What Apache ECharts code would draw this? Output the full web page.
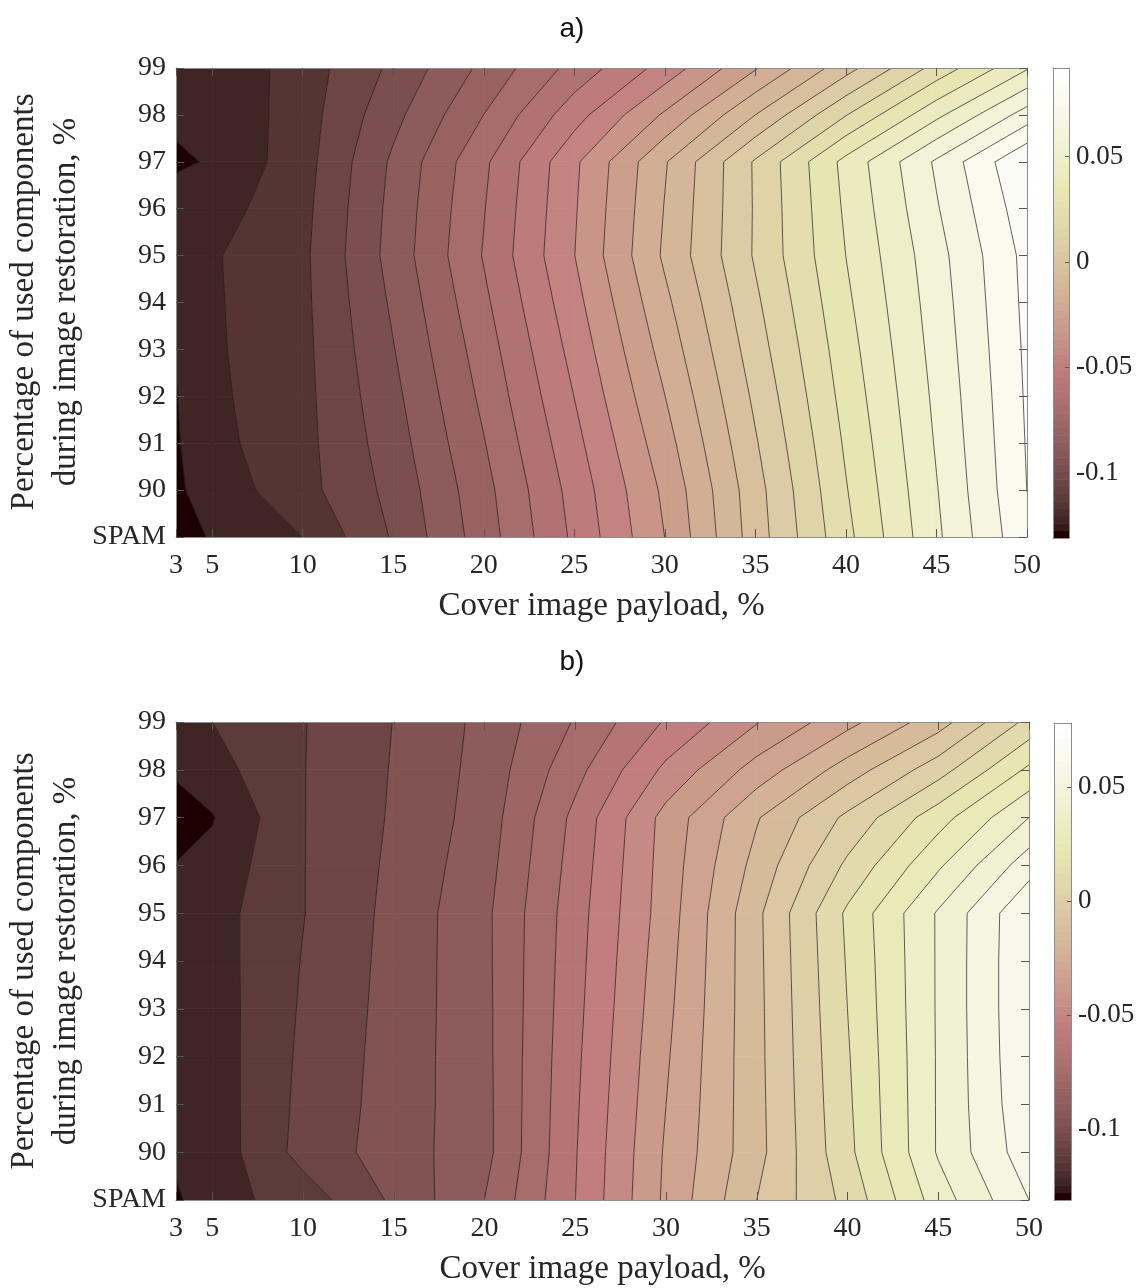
<!DOCTYPE html>
<html>
<head>
<meta charset="UTF-8">
<title>Contour maps a) and b)</title>
<script src="https://cdn.jsdelivr.net/npm/echarts@6/dist/echarts.min.js"></script>
<style>
  html, body { margin: 0; padding: 0; background: #fff; }
  #chart { width: 1144px; height: 1288px; }
</style>
</head>
<body>
<div id="chart"></div>
<script>
// grid of the measurements
var payload = [3, 5, 10, 15, 20, 25, 30, 35, 40, 45, 50];
var restoration = [89, 90, 91, 92, 93, 94, 95, 96, 97, 98, 99]; // 89 is the SPAM row
var payloadTicks = [3, 5, 10, 15, 20, 25, 30, 35, 40, 45, 50];
var colorbarTicks = [-0.1, -0.05, 0, 0.05];

// colour limits and number of contour levels of each map
var rangeA = [-0.131, 0.092];
var rangeB = [-0.131, 0.078];
var levelCountA = 25;
var levelCountB = 24;

// values, one row per restoration percentage (SPAM first), columns follow payload
var valuesA = [
  [-0.1310, -0.1207, -0.1138, -0.0958, -0.0752, -0.0521, -0.0280, 0.0020, 0.0295, 0.0560, 0.0818], // SPAM
  [-0.1237, -0.1190, -0.1083, -0.0941, -0.0738, -0.0506, -0.0263, 0.0029, 0.0314, 0.0572, 0.0835], // 90
  [-0.1233, -0.1164, -0.1080, -0.0922, -0.0714, -0.0479, -0.0230, 0.0054, 0.0332, 0.0585, 0.0840], // 91
  [-0.1228, -0.1156, -0.1078, -0.0904, -0.0690, -0.0451, -0.0196, 0.0080, 0.0351, 0.0596, 0.0845], // 92
  [-0.1220, -0.1151, -0.1076, -0.0885, -0.0667, -0.0423, -0.0162, 0.0107, 0.0369, 0.0608, 0.0850], // 93
  [-0.1198, -0.1149, -0.1073, -0.0867, -0.0642, -0.0395, -0.0129, 0.0132, 0.0388, 0.0619, 0.0856], // 94
  [-0.1181, -0.1147, -0.1071, -0.0848, -0.0618, -0.0368, -0.0095, 0.0158, 0.0406, 0.0631, 0.0861], // 95
  [-0.1178, -0.1177, -0.1078, -0.0855, -0.0628, -0.0375, -0.0105, 0.0157, 0.0419, 0.0655, 0.0887], // 96
  [-0.1239, -0.1216, -0.1088, -0.0866, -0.0641, -0.0383, -0.0117, 0.0159, 0.0432, 0.0676, 0.0921], // 97
  [-0.1206, -0.1214, -0.1093, -0.0907, -0.0709, -0.0488, -0.0268, -0.0023, 0.0230, 0.0470, 0.0702], // 98
  [-0.1216, -0.1211, -0.1097, -0.0949, -0.0774, -0.0594, -0.0419, -0.0203, 0.0029, 0.0264, 0.0483]  // 99
];
var valuesB = [
  [-0.1239, -0.1176, -0.1105, -0.0961, -0.0808, -0.0558, -0.0290, -0.0056, 0.0136, 0.0404, 0.0613], // SPAM
  [-0.1210, -0.1194, -0.1030, -0.0937, -0.0835, -0.0563, -0.0296, -0.0084, 0.0172, 0.0454, 0.0663], // 90
  [-0.1205, -0.1190, -0.1037, -0.0941, -0.0834, -0.0569, -0.0307, -0.0082, 0.0180, 0.0454, 0.0680], // 91
  [-0.1200, -0.1187, -0.1043, -0.0943, -0.0832, -0.0575, -0.0317, -0.0080, 0.0187, 0.0454, 0.0688], // 92
  [-0.1195, -0.1185, -0.1049, -0.0946, -0.0831, -0.0582, -0.0328, -0.0079, 0.0195, 0.0455, 0.0692], // 93
  [-0.1190, -0.1181, -0.1055, -0.0949, -0.0829, -0.0588, -0.0338, -0.0077, 0.0202, 0.0455, 0.0692], // 94
  [-0.1185, -0.1178, -0.1062, -0.0952, -0.0828, -0.0594, -0.0349, -0.0075, 0.0210, 0.0455, 0.0688], // 95
  [-0.1224, -0.1201, -0.1062, -0.0959, -0.0842, -0.0606, -0.0354, -0.0111, 0.0128, 0.0349, 0.0577], // 96
  [-0.1260, -0.1232, -0.1062, -0.0966, -0.0855, -0.0619, -0.0360, -0.0147, 0.0047, 0.0243, 0.0446], // 97
  [-0.1216, -0.1176, -0.1062, -0.0970, -0.0863, -0.0669, -0.0455, -0.0272, -0.0101, 0.0075, 0.0295], // 98
  [-0.1193, -0.1143, -0.1063, -0.0974, -0.0870, -0.0718, -0.0549, -0.0396, -0.0249, -0.0093, 0.0136]  // 99
];

var serif = 'Liberation Serif, Times New Roman, serif';
var frameColor = '#8c8c8c';
var textColor = '#262626';
var yTitle = 'Percentage of used components\nduring image restoration, %';

// MATLAB "pink" colormap, 64 entries
function pink(t) {
  var m = 64, n = 24;
  var i = Math.floor(t * m);
  if (i > m - 1) i = m - 1;
  if (i < 0) i = 0;
  var k = i + 1;
  var gray = i / (m - 1);
  var r = k <= n ? k / n : 1;
  var g = k <= n ? 0 : (k <= 2 * n ? (k - n) / n : 1);
  var b = k <= 2 * n ? 0 : (k - 2 * n) / (m - 2 * n);
  function c(h) { return Math.round(255 * Math.sqrt((2 * gray + h) / 3)); }
  return 'rgb(' + c(r) + ',' + c(g) + ',' + c(b) + ')';
}

function contourSeries(values, range, levelCount, axisIndex) {
  var span = range[1] - range[0];
  var levels = [];
  for (var k = 1; k <= levelCount; k++) levels.push(range[0] + k * span / (levelCount + 1));
  var fills = [pink(0)].concat(levels.map(function (L) { return pink((L - range[0]) / span + 1e-9); }));
  var cells = [];
  for (var j = 0; j < restoration.length - 1; j++) {
    for (var i = 0; i < payload.length - 1; i++) cells.push([payload[i], restoration[j], i, j]);
  }

  function makeRender(mode) {
    return function (params, api) {
      var i = api.value(2), j = api.value(3);
      var xs = [payload[i], payload[i + 1], payload[i + 1], payload[i]];
      var ys = [restoration[j], restoration[j], restoration[j + 1], restoration[j + 1]];
      var vs = [values[j][i], values[j][i + 1], values[j + 1][i + 1], values[j + 1][i]];
      function at(e, t) {
        var f = (e + 1) % 4;
        return api.coord([xs[e] + t * (xs[f] - xs[e]), ys[e] + t * (ys[f] - ys[e])]);
      }
      function cut(e, L) {
        var a = vs[e], b = vs[(e + 1) % 4];
        return (a - L) * (b - L) < 0 ? (L - a) / (b - a) : -1;
      }
      var children = [];
      if (mode === 'fill') {
        for (var b = 0; b <= levels.length; b++) {
          var lo = b === 0 ? -Infinity : levels[b - 1];
          var hi = b === levels.length ? Infinity : levels[b];
          var pts = [];
          for (var e = 0; e < 4; e++) {
            if (vs[e] >= lo && vs[e] < hi) pts.push(api.coord([xs[e], ys[e]]));
            var ts = [];
            if (b > 0) { var t1 = cut(e, lo); if (t1 >= 0) ts.push(t1); }
            if (b < levels.length) { var t2 = cut(e, hi); if (t2 >= 0) ts.push(t2); }
            ts.sort(function (p, q) { return p - q; });
            for (var n = 0; n < ts.length; n++) pts.push(at(e, ts[n]));
          }
          if (pts.length >= 3) {
            children.push({ type: 'polygon', shape: { points: pts },
              style: { fill: fills[b], stroke: fills[b], lineWidth: 0.8 } });
          }
        }
      } else {
        var mid = (vs[0] + vs[1] + vs[2] + vs[3]) / 4;
        levels.forEach(function (L) {
          var hits = [];
          for (var e = 0; e < 4; e++) { var t = cut(e, L); if (t >= 0) hits.push(at(e, t)); }
          var segs = [];
          if (hits.length === 2) segs.push([hits[0], hits[1]]);
          else if (hits.length === 4) {
            if ((mid - L) * (vs[1] - L) > 0) segs.push([hits[3], hits[0]], [hits[1], hits[2]]);
            else segs.push([hits[0], hits[1]], [hits[2], hits[3]]);
          }
          segs.forEach(function (s) {
            children.push({ type: 'line',
              shape: { x1: s[0][0], y1: s[0][1], x2: s[1][0], y2: s[1][1] },
              style: { stroke: '#1e1414', lineWidth: 0.8, opacity: 0.85 } });
          });
        });
      }
      return { type: 'group', children: children };
    };
  }

  return [
    { type: 'custom', xAxisIndex: axisIndex, yAxisIndex: axisIndex, silent: true, clip: true,
      data: cells, renderItem: makeRender('fill'), z: 2 },
    { type: 'custom', xAxisIndex: axisIndex, yAxisIndex: axisIndex, silent: true, clip: true,
      data: cells, renderItem: makeRender('line'), z: 3 }
  ];
}

function colorbarSeries(range, axisIndex) {
  var steps = [];
  for (var s = 0; s < 64; s++) steps.push([0.5, range[0] + (s + 0.5) * (range[1] - range[0]) / 64, s]);
  return {
    type: 'custom', xAxisIndex: axisIndex, yAxisIndex: axisIndex, silent: true, data: steps,
    renderItem: function (params, api) {
      var s = api.value(2);
      var v0 = range[0] + s * (range[1] - range[0]) / 64;
      var v1 = range[0] + (s + 1) * (range[1] - range[0]) / 64;
      var p0 = api.coord([0, v0]), p1 = api.coord([1, v1]);
      return { type: 'rect',
        shape: { x: p0[0], y: p1[1], width: p1[0] - p0[0], height: p0[1] - p1[1] + 0.6 },
        style: { fill: pink((s + 0.5) / 64) } };
    }
  };
}

function payloadAxis(grid, position, name) {
  return {
    gridIndex: grid, type: 'value', min: 3, max: 50, position: position, z: 5,
    axisLine: { show: true, onZero: false, lineStyle: { color: frameColor, width: 1 } },
    axisTick: { show: true, inside: true, length: 8, customValues: payloadTicks,
      lineStyle: { color: '#555', width: 1 } },
    axisLabel: { show: !!name, customValues: payloadTicks, fontFamily: serif, fontSize: 28,
      color: textColor, margin: 15 },
    splitLine: { show: false },
    name: name || '', nameLocation: 'middle', nameGap: 53, nameMoveOverlap: false,
    nameTextStyle: { fontFamily: serif, fontSize: 33, color: textColor }
  };
}

function restorationAxis(grid, position, withText) {
  return {
    gridIndex: grid, type: 'value', min: 89, max: 99, interval: 1, position: position, z: 5,
    axisLine: { show: true, onZero: false, lineStyle: { color: frameColor, width: 1 } },
    axisTick: { show: true, inside: true, length: 8, lineStyle: { color: '#555', width: 1 } },
    axisLabel: { show: withText, fontFamily: serif, fontSize: 28, color: textColor, margin: 10,
      formatter: function (v) { return v === 89 ? 'SPAM' : String(v); } },
    splitLine: { show: false }
  };
}

function barX(grid, position) {
  return { gridIndex: grid, type: 'value', min: 0, max: 1, position: position, z: 5,
    axisLine: { show: true, onZero: false, lineStyle: { color: frameColor, width: 1 } },
    axisTick: { show: false }, axisLabel: { show: false }, splitLine: { show: false } };
}

function barY(grid, range, position, withText) {
  return { gridIndex: grid, type: 'value', min: range[0], max: range[1], position: position, z: 5,
    axisLine: { show: true, onZero: false, lineStyle: { color: frameColor, width: 1 } },
    axisTick: { show: withText, inside: true, length: 4, customValues: colorbarTicks,
      lineStyle: { color: '#555' } },
    axisLabel: { show: withText, customValues: colorbarTicks, fontFamily: serif, fontSize: 27,
      color: textColor, margin: 7, formatter: function (v) { return String(v); } },
    splitLine: { show: false } };
}

// rotated two-line y title, centred on its plot
function yTitleText(centerY) {
  return {
    type: 'text', x: 45, y: centerY, rotation: Math.PI / 2, silent: true,
    style: { text: yTitle, fontFamily: serif, fontSize: 33, fill: textColor,
      lineHeight: 42, align: 'center', verticalAlign: 'middle' }
  };
}

var chart = echarts.init(document.getElementById('chart'));

var option = {
  backgroundColor: '#ffffff',
  animation: false,
  title: [
    { text: 'a)', left: 'center', top: 10,
      textStyle: { fontFamily: 'Liberation Sans, Arial, sans-serif', fontSize: 28, fontWeight: 'normal', color: '#111' } },
    { text: 'b)', left: 'center', top: 643,
      textStyle: { fontFamily: 'Liberation Sans, Arial, sans-serif', fontSize: 28, fontWeight: 'normal', color: '#111' } }
  ],
  graphic: [yTitleText(302), yTitleText(961)],
  grid: [
    { left: 176, top: 68, width: 851, height: 469, outerBoundsMode: 'none' },
    { left: 176, top: 722, width: 853, height: 478, outerBoundsMode: 'none' },
    { left: 1053, top: 68, width: 16, height: 470, outerBoundsMode: 'none' },
    { left: 1054, top: 723, width: 17, height: 477, outerBoundsMode: 'none' }
  ],
  xAxis: [
    payloadAxis(0, 'bottom', 'Cover image payload, %'),
    payloadAxis(0, 'top', ''),
    payloadAxis(1, 'bottom', 'Cover image payload, %'),
    payloadAxis(1, 'top', ''),
    barX(2, 'bottom'), barX(2, 'top'),
    barX(3, 'bottom'), barX(3, 'top')
  ],
  yAxis: [
    restorationAxis(0, 'left', true),
    restorationAxis(0, 'right', false),
    restorationAxis(1, 'left', true),
    restorationAxis(1, 'right', false),
    barY(2, rangeA, 'right', true), barY(2, rangeA, 'left', false),
    barY(3, rangeB, 'right', true), barY(3, rangeB, 'left', false)
  ],
  series: [].concat(
    contourSeries(valuesA, rangeA, levelCountA, 0),
    contourSeries(valuesB, rangeB, levelCountB, 2),
    [colorbarSeries(rangeA, 4), colorbarSeries(rangeB, 6)]
  )
};

chart.setOption(option);
</script>
</body>
</html>
